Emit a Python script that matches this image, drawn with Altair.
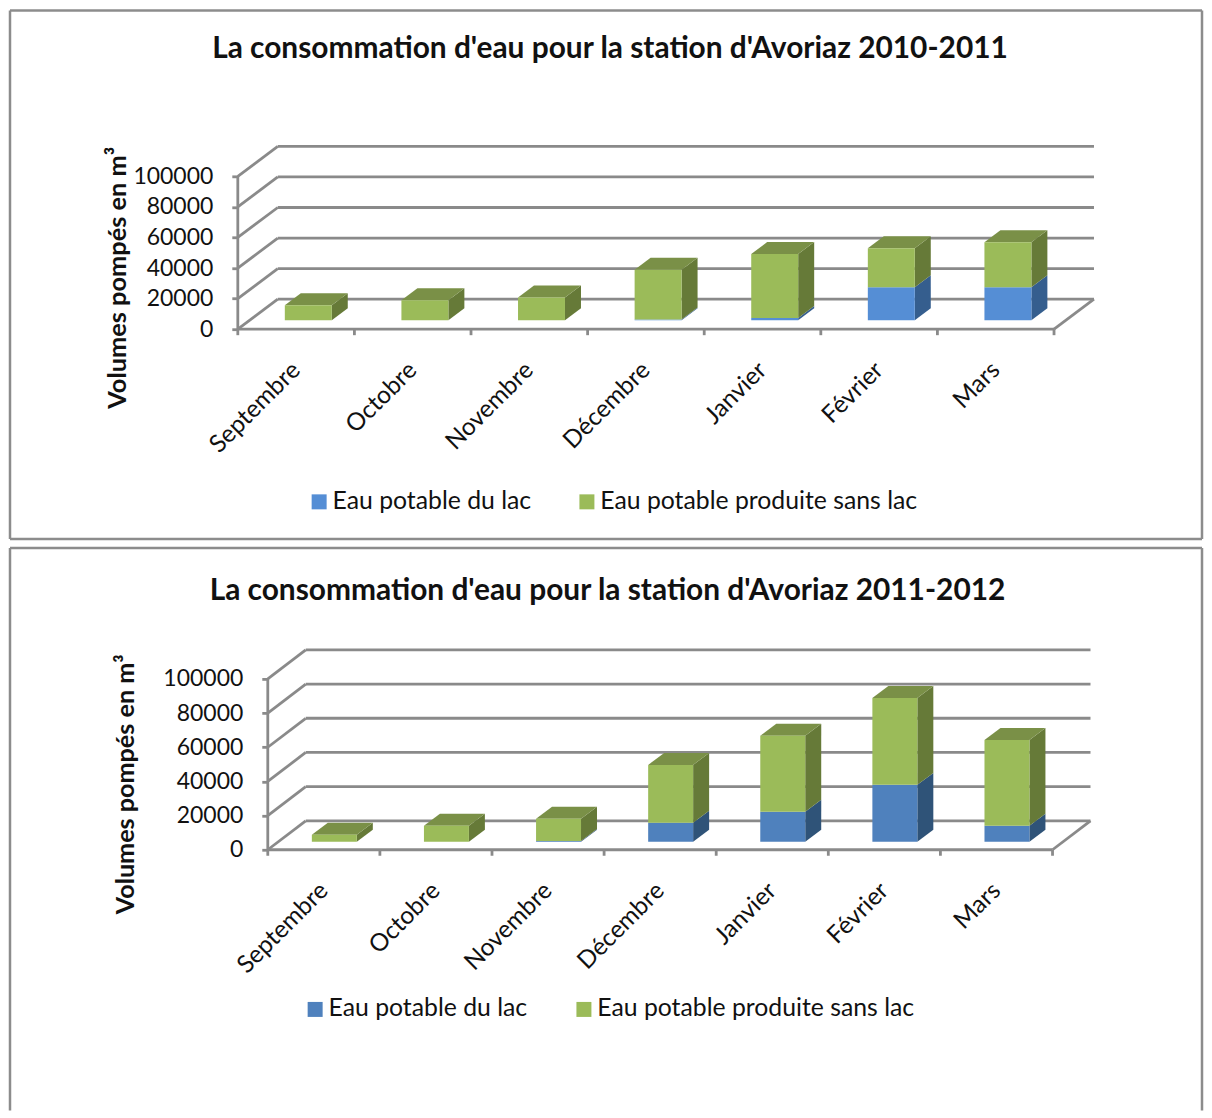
import altair as alt
import pandas as pd

MONTHS = ["Septembre", "Octobre", "Novembre", "Décembre", "Janvier", "Février", "Mars"]
SERIES = ["Eau potable du lac", "Eau potable produite sans lac"]
TICKS = [0, 20000, 40000, 60000, 80000, 100000]

LAC_2010 = [0, 0, 0, 500, 1500, 21500, 21500]
SANS_2010 = [9800, 13000, 14800, 32500, 41800, 25500, 29500]
LAC_2011 = [0, 0, 500, 11100, 17500, 33300, 9400]
SANS_2011 = [4100, 9400, 13000, 33900, 44500, 50900, 50200]

GRID = "#8a8a8a"
FONT = "Lato"
GREEN = ("#9BBB59", "#667A38", "#7A9047")
YTITLE = "Volumes pompés en m³"


def panel(title, lac, sans, cfg):
    pc, py = cfg["px_cat"], cfg["px_val"]
    w, h = cfg["w"], cfg["h"]
    inset = cfg["inset"]
    xdom = [-inset / pc, (w - inset) / pc]
    ydom = [0, h / py]
    ddx, ddy = cfg["back"][0] / pc, cfg["back"][1] / py
    sx, sy = cfg["shift"][0] / pc, cfg["shift"][1] / py
    bdx, bdy = 16 / pc, 12 / py
    bw = cfg["bar_w"] / pc
    xs = alt.Scale(domain=xdom, nice=False, zero=False)
    ys = alt.Scale(domain=ydom, nice=False, zero=False)
    n = len(MONTHS)

    seg = []
    for t in TICKS:
        seg.append(dict(x=0, x2=ddx, y=t, y2=t + ddy))
        seg.append(dict(x=ddx, x2=n + ddx, y=t + ddy, y2=t + ddy))
    seg.append(dict(x=0, x2=n, y=0, y2=0))
    seg.append(dict(x=n, x2=n + ddx, y=0, y2=ddy))
    seg.append(dict(x=0, x2=0, y=0, y2=TICKS[-1]))
    for i in range(n + 1):
        seg.append(dict(x=i, x2=i, y=0, y2=-6 / py))
    label_expr = "[" + ",".join(f"'{m}'" for m in MONTHS) + "][floor(datum.value)]"
    x_axis = alt.Axis(
        values=[i + 0.5 for i in range(n)], labelExpr=label_expr, labelAngle=-45,
        labelAlign="right", labelBaseline="middle", labelFont=FONT, labelFontSize=cfg["fs"],
        labelColor="#111111", labelOverlap=False, labelBound=False, labelFlush=False,
        labelPadding=cfg["xpad"], domain=False, ticks=False, grid=False)
    y_axis = alt.Axis(
        values=TICKS, format="d", offset=-inset, titleFont=FONT, titleFontSize=cfg["tfs"],
        titleFontWeight="bold", titleColor="#111111", titleX=cfg["ytx"], titleY=cfg["yty"],
        labelFont=FONT, labelFontSize=cfg["nfs"], labelColor="#111111", labelPadding=19,
        labelOverlap=False, labelBound=False, labelFlush=False,
        tickColor=GRID, tickWidth=2.8, tickSize=6, domain=False, grid=False)
    grid = alt.Chart(pd.DataFrame(seg)).mark_rule(color=GRID, strokeWidth=2.8).encode(
        x=alt.X("x:Q", scale=xs, title=None, axis=x_axis),
        x2="x2:Q",
        y=alt.Y("y:Q", scale=ys, title=YTITLE, axis=y_axis),
        y2="y2:Q",
    )

    fronts, sides, tops = [], [], []
    for i in range(n):
        l = i + (1 - bw) / 2 + sx
        r = l + bw
        base = sy
        for name, val, pal in ((SERIES[0], lac[i], cfg["blue"]), (SERIES[1], sans[i], GREEN)):
            if val <= 0:
                continue
            top = base + val
            key = f"{i}-{name}"
            fronts.append(dict(x=l, x2=r, y=base, y2=top, serie=name))
            sides.append(dict(x=r, y=base, y2=top, key=key, c=pal[1]))
            sides.append(dict(x=r + bdx, y=base + bdy, y2=top + bdy, key=key, c=pal[1]))
            base = top
        tops.append(dict(y=base, x=l, x2=r, key=str(i)))
        tops.append(dict(y=base + bdy, x=l + bdx, x2=r + bdx, key=str(i)))

    xn = alt.X("x:Q", scale=xs, title=None, axis=x_axis)
    yn = alt.Y("y:Q", scale=ys, title=YTITLE, axis=y_axis)
    side = alt.Chart(pd.DataFrame(sides)).mark_area().encode(
        x=xn, y=alt.Y("y:Q", scale=ys, title=YTITLE, axis=y_axis, stack=None), y2="y2:Q",
        detail="key:N", color=alt.Color("c:N", scale=None))
    toplayer = alt.Chart(pd.DataFrame(tops)).mark_area(orient="horizontal", color=GREEN[2]).encode(
        y=yn, x=alt.X("x:Q", scale=xs, title=None, axis=x_axis, stack=None), x2="x2:Q", detail="key:N")
    front = alt.Chart(pd.DataFrame(fronts)).mark_rect().encode(
        x=xn, x2="x2:Q", y=yn, y2="y2:Q",
        color=alt.Color("serie:N", scale=alt.Scale(domain=SERIES, range=[cfg["blue"][0], GREEN[0]]),
                        legend=alt.Legend(title=None, orient="none", legendX=cfg["lx"], legendY=cfg["ly"],
                                          direction="horizontal", columns=2, symbolType="square",
                                          symbolSize=225, labelFont=FONT, labelFontSize=cfg["lfs"],
                                          labelColor="#111111", columnPadding=cfg["lgap"], labelOffset=1,
                                          labelLimit=500, symbolStrokeWidth=0)))

    one = alt.Chart(pd.DataFrame({"a": [0]}))
    frames = []
    for f in cfg["frame"]:
        frames.append(one.mark_rule(color="#8c8c8c", strokeWidth=2.5).encode(
            x=alt.value(f[0]), x2=alt.value(f[1]), y=alt.value(f[2]), y2=alt.value(f[3])))

    return alt.layer(grid, side, toplayer, front, *frames).properties(
        width=w, height=h,
        title=alt.Title(title, font=FONT, fontSize=cfg["title_fs"], fontWeight="bold", color="#111111",
                        anchor="middle", frame="group", dx=cfg["tdx"], offset=cfg["toff"]),
    )


p1 = panel("La consommation d'eau pour la station d'Avoriaz 2010-2011", LAC_2010, SANS_2010, dict(
    px_cat=116.7, px_val=1.53 / 1000, w=857, h=183, inset=0, back=(40, 30), shift=(12.2, 9), bar_w=47,
    blue=("#558ED5", "#355E8E"), fs=24.5, lfs=24.8, nfs=23, tfs=25.4, title_fs=29.9, xpad=37, ytx=-107, yty=131,
    lx=69, ly=343, lgap=43, tdx=-56, toff=-55,
    frame=[(-228, -228, -136, 393), (965, 965, -136, 393), (-228, 965, -136, -136), (-228, 965, 393, 393)]))
p2 = panel("La consommation d'eau pour la station d'Avoriaz 2011-2012", LAC_2011, SANS_2011, dict(
    px_cat=112.2, px_val=1.71 / 1000, w=854, h=200, inset=30, back=(38, 29), shift=(10.5, 8), bar_w=45,
    blue=("#4F81BD", "#2F5378"), fs=24.5, lfs=24.8, nfs=23, tfs=25.2, title_fs=29.9, xpad=37, ytx=-129, yty=134,
    lx=65, ly=347, lgap=44, tdx=-57, toff=-59,
    frame=[(-228, -228, -102, 461), (965, 965, -102, 461), (-228, 965, -102, -102)]))

chart = (alt.vconcat(p1, p2, spacing=5)
         .resolve_scale(color="independent")
         .resolve_legend(color="independent")
         .properties(padding=0, background="white")
         .configure_view(stroke=None)
         .configure_axis(labelOverlap=False))
chart.save("out.html", embed_options={"renderer": "svg", "actions": False})
